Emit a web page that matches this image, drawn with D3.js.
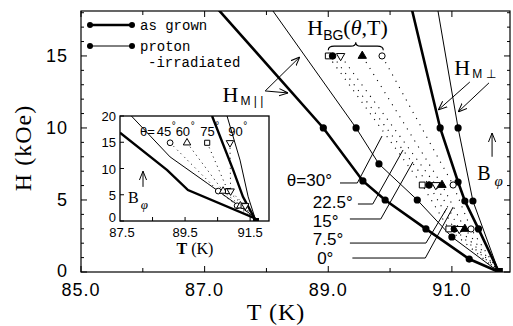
<!DOCTYPE html>
<html><head><meta charset="utf-8">
<script src="https://cdn.jsdelivr.net/npm/d3@7"></script>
<style>body{margin:0;background:#fff} svg{display:block}</style>
</head><body>
<script>
// ---- main panel data (T in K, H in kOe) ----
const xTicks = [85, 87, 89, 91];
const xMinor = [86, 88, 90];
const yTicks = [0, 5, 10, 15];
const yMinor = d3.range(0, 19, 1);
const T_C = 91.76;

// H_M parallel
const asGrownPar = [[87.06,19],[88.92,10.0],[89.56,6.32],[89.92,5.0],[90.58,2.99],[91.28,0.9],[91.76,0]];
const asGrownParDots = [[88.92,10.0],[89.56,6.32],[89.92,5.0],[90.58,2.99],[91.28,0.9]];
const protonPar = [[87.96,19],[89.45,10.0],[89.82,7.5],[90.44,5.0],[91.0,2.43],[91.76,0]];
const protonParDots = [[89.45,10.0],[89.82,7.5],[90.44,5.0],[91.0,2.43]];
// H_M perpendicular
const asGrownPerp = [[90.31,19],[90.81,10.0],[91.10,6.25],[91.21,4.93],[91.43,2.99],[91.76,0]];
const asGrownPerpDots = [[90.81,10.0],[91.10,6.25],[91.21,4.93],[91.43,2.99]];
const protonPerp = [[90.74,19],[91.10,10.0],[91.34,4.93],[91.76,0]];
const protonPerpDots = [[91.10,10.0],[91.34,4.93]];
// H_BG(theta,T)
const bgSquare = [[89.0,15.0],[90.52,6.04],[90.95,2.99],[91.76,0]];
const bgHalf   = [[89.07,15.0],[90.63,6.04],[91.04,2.99],[91.76,0]];
const bgDown   = [[89.2,15.0],[90.74,6.04],[91.12,2.99],[91.76,0]];
const bgUp     = [[89.55,15.0],[90.84,6.04],[91.21,2.99],[91.76,0]];
const bgCircle = [[89.87,15.0],[91.02,6.04],[91.31,2.99],[91.76,0]];
// theta labels and their leader lines
const thetaLabels = ["θ=30°", "22.5°", "15°", "7.5°", "0°"];
const thetaLabelPos = [[88.33,6.0],[88.75,4.44],[88.75,3.12],[88.75,1.87],[88.82,0.55]];
const thetaLeaders = [
  [[89.19,6.18],[89.47,6.18],[89.87,9.44]],
  [[89.48,4.72],[89.72,4.72],[90.21,8.47]],
  [[89.35,3.68],[89.85,3.68],[90.37,7.64]],
  [[89.35,2.01],[90.58,2.01],[90.92,4.44]],
  [[89.39,0.97],[90.57,0.97],[91.02,4.51]]
];

// ---- inset data ----
const insetXTicks = [87.5, 89.5, 91.5];
const insetYTicks = [0, 5, 10, 15, 20];
const insetTc = 91.68;
const insetGrownPar = [[87.5,16.8],[88.95,9.7],[89.59,5.9],[91.62,0.6],[91.68,0]];
const insetProtonPar = [[87.85,20],[89.04,12.2],[90.18,7.2],[91.56,1.1],[91.68,0]];
const insetGrownPerp = [[90.33,20],[90.98,9.7],[91.28,4.6],[91.68,0]];
const insetProtonPerp = [[90.79,20],[91.19,11.6],[91.44,4.6],[91.68,0]];
const insetBgCircle = [[89.04,14.9],[90.52,5.7],[91.1,2.9],[91.68,0]];
const insetBgUp     = [[89.56,14.9],[90.67,5.7],[91.2,2.9],[91.68,0]];
const insetBgSquare = [[90.18,14.9],[90.82,5.7],[91.3,2.9],[91.68,0]];
const insetBgDown   = [[90.88,14.9],[90.9,5.7],[91.35,2.9],[91.68,0]];
const insetAngles = ["45", "60", "75", "90"];
const insetAngleT = [88.63, 89.21, 89.97, 90.83];

const W = 513, H = 326;
const svg = d3.select("body").append("svg").attr("width", W).attr("height", H);

const x = d3.scaleLinear().domain([85, 91.94]).range([81, 510]);
const y = d3.scaleLinear().domain([0, 18.12]).range([272, 11]);

const defs = svg.append("defs");
defs.append("clipPath").attr("id", "clipMain").append("rect")
    .attr("x", 81).attr("y", 11).attr("width", 429).attr("height", 261);
defs.append("marker").attr("id", "arr").attr("viewBox", "0 0 10 10")
    .attr("refX", 10).attr("refY", 5).attr("markerWidth", 9).attr("markerHeight", 9)
    .attr("orient", "auto").attr("markerUnits", "userSpaceOnUse")
  .append("path").attr("d", "M0,1 L10,5 L0,9").attr("fill", "none").attr("stroke", "#000").attr("stroke-width", 1.1);

const line = d3.line().x(d => x(d[0])).y(d => y(d[1]));

// frame
svg.append("rect").attr("x", 81).attr("y", 11).attr("width", 429).attr("height", 261)
    .attr("fill", "none").attr("stroke", "#000").attr("stroke-width", 1.2);

// ticks (inward)
const tk = svg.append("g").attr("stroke", "#000").attr("stroke-width", 1);
xTicks.concat(xMinor).forEach(t => {
  const len = xTicks.includes(t) ? 6 : 4;
  tk.append("line").attr("x1", x(t)).attr("x2", x(t)).attr("y1", 272).attr("y2", 272 - len);
  tk.append("line").attr("x1", x(t)).attr("x2", x(t)).attr("y1", 11).attr("y2", 11 + len);
});
yMinor.forEach(v => {
  const len = yTicks.includes(v) ? 6 : 3;
  tk.append("line").attr("x1", 81).attr("x2", 81 + len).attr("y1", y(v)).attr("y2", y(v));
  tk.append("line").attr("x1", 510).attr("x2", 510 - len).attr("y1", y(v)).attr("y2", y(v));
});

const sans = "'Liberation Sans', Arial, sans-serif";
const serif = "'Liberation Serif', 'Times New Roman', serif";
const mono = "'Liberation Mono', 'Courier New', monospace";

svg.append("g").selectAll("text").data(xTicks).join("text")
    .attr("x", d => x(d)).attr("y", 296).attr("text-anchor", "middle")
    .attr("font-family", sans).attr("font-size", 18).attr("letter-spacing", 1)
    .text(d => d3.format(".1f")(d));
svg.append("g").selectAll("text").data(yTicks).join("text")
    .attr("x", 68).attr("y", d => y(d) + (d === 0 ? 5 : 6.5)).attr("text-anchor", "end")
    .attr("font-family", sans).attr("font-size", 18).attr("letter-spacing", 1)
    .text(d => d);

svg.append("text").attr("transform", "translate(31,148) rotate(-90)")
    .attr("text-anchor", "middle").attr("font-family", serif).attr("font-size", 24)
    .attr("letter-spacing", 1).text("H (kOe)");
svg.append("text").attr("x", 276).attr("y", 320).attr("text-anchor", "middle")
    .attr("font-family", serif).attr("font-size", 24).attr("letter-spacing", 1).text("T (K)");

// ---- plot content ----
const plot = svg.append("g").attr("clip-path", "url(#clipMain)");

const dotted = [bgSquare, bgHalf, bgDown, bgUp, bgCircle];
plot.append("g").selectAll("path").data(dotted).join("path")
    .attr("d", line)
    .attr("fill", "none").attr("stroke", "#000").attr("stroke-width", 1.1)
    .attr("stroke-dasharray", "1.1,6");

plot.append("path").attr("d", line(asGrownPar)).attr("fill", "none").attr("stroke", "#000").attr("stroke-width", 2.6);
plot.append("path").attr("d", line(protonPar)).attr("fill", "none").attr("stroke", "#000").attr("stroke-width", 1);
plot.append("path").attr("d", line(asGrownPerp)).attr("fill", "none").attr("stroke", "#000").attr("stroke-width", 2.6);
plot.append("path").attr("d", line(protonPerp)).attr("fill", "none").attr("stroke", "#000").attr("stroke-width", 1);

plot.append("g").selectAll("path").data(thetaLeaders).join("path")
    .attr("d", line).attr("fill", "none").attr("stroke", "#000").attr("stroke-width", 1);

const allDots = asGrownParDots.concat(protonParDots, asGrownPerpDots, protonPerpDots);
plot.append("g").selectAll("circle").data(allDots).join("circle")
    .attr("cx", d => x(d[0])).attr("cy", d => y(d[1])).attr("r", 3.6).attr("fill", "#000");

// BG symbols
function sym(g, sx, sy, data, type, filled, rot, size) {
  g.append("g").selectAll("path").data(data.slice(0, 3)).join("path")
    .attr("transform", d => `translate(${sx(d[0])},${sy(d[1])}) rotate(${rot})`)
    .attr("d", d3.symbol().type(type).size(size))
    .attr("fill", filled ? "#000" : "#fff").attr("stroke", "#000").attr("stroke-width", 1);
}
sym(plot, x, y, bgSquare, d3.symbolSquare, false, 0, 34);
sym(plot, x, y, bgHalf, d3.symbolCircle, true, 0, 34);
sym(plot, x, y, bgDown, d3.symbolTriangle, false, 180, 30);
sym(plot, x, y, bgUp, d3.symbolTriangle, true, 0, 30);
sym(plot, x, y, bgCircle, d3.symbolCircle, false, 0, 30);

// corner square at T_c
plot.append("rect").attr("x", x(T_C) - 4).attr("y", y(0) - 4).attr("width", 8).attr("height", 8).attr("fill", "#000");

// theta labels
svg.append("g").selectAll("text").data(thetaLabels).join("text")
    .attr("x", (d, i) => x(thetaLabelPos[i][0])).attr("y", (d, i) => y(thetaLabelPos[i][1]))
    .attr("font-family", sans).attr("font-size", 17).text(d => d);

// H_M parallel label + arrows
const hm = svg.append("text").attr("x", x(87.29)).attr("y", y(11.8)).attr("font-family", serif).attr("font-size", 22);
hm.append("tspan").text("H");
hm.append("tspan").attr("dy", 3).attr("dx", 2).attr("font-size", 12).attr("font-family", sans).text("M | |");
svg.append("line").attr("x1", x(87.98)).attr("y1", y(12.57)).attr("x2", x(88.54)).attr("y2", y(14.93))
    .attr("stroke", "#000").attr("stroke-width", 1).attr("marker-end", "url(#arr)");
svg.append("line").attr("x1", x(87.98)).attr("y1", y(12.57)).attr("x2", x(88.35)).attr("y2", y(12.43))
    .attr("stroke", "#000").attr("stroke-width", 1).attr("marker-end", "url(#arr)");

// H_M perp label + arrows
const hp = svg.append("text").attr("x", x(91.04)).attr("y", y(13.7)).attr("font-family", serif).attr("font-size", 22);
hp.append("tspan").text("H");
hp.append("tspan").attr("dy", 3).attr("dx", 2).attr("font-size", 12).attr("font-family", sans).text("M ⊥");
svg.append("line").attr("x1", x(91.29)).attr("y1", y(13.19)).attr("x2", x(90.78)).attr("y2", y(11.25))
    .attr("stroke", "#000").attr("stroke-width", 1).attr("marker-end", "url(#arr)");
svg.append("line").attr("x1", x(91.60)).attr("y1", y(13.13)).attr("x2", x(91.10)).attr("y2", y(11.11))
    .attr("stroke", "#000").attr("stroke-width", 1).attr("marker-end", "url(#arr)");

// H_BG(theta,T) label + brace
const hb = svg.append("text").attr("x", x(88.66)).attr("y", y(16.45)).attr("font-family", serif).attr("font-size", 22);
hb.append("tspan").text("H");
hb.append("tspan").attr("dy", 5).attr("font-size", 14).attr("font-family", sans).text("BG");
hb.append("tspan").attr("dy", -5).text("(");
hb.append("tspan").attr("font-style", "italic").text("θ");
hb.append("tspan").text(",T)");
{
  const bx0 = x(89.0), bx1 = x(89.89), by = y(15.75), bm = (bx0 + bx1) / 2;
  const p = d3.path();
  p.moveTo(bx0, by - 3);
  p.quadraticCurveTo(bx0, by + 1, bx0 + 6, by + 1);
  p.lineTo(bm - 5, by + 1);
  p.quadraticCurveTo(bm, by + 1, bm, by + 5);
  p.quadraticCurveTo(bm, by + 1, bm + 5, by + 1);
  p.lineTo(bx1 - 6, by + 1);
  p.quadraticCurveTo(bx1, by + 1, bx1, by - 3);
  svg.append("path").attr("d", p.toString()).attr("fill", "none").attr("stroke", "#000").attr("stroke-width", 1.1)
    .attr("transform", `rotate(180,${bm},${by + 1})`);
}

// B_phi arrow
svg.append("line").attr("x1", x(91.65)).attr("y1", y(8.0)).attr("x2", x(91.65)).attr("y2", y(9.65))
    .attr("stroke", "#000").attr("stroke-width", 1).attr("marker-end", "url(#arr)");
const bp = svg.append("text").attr("x", x(91.41)).attr("y", y(6.4)).attr("font-family", serif).attr("font-size", 20);
bp.append("tspan").text("B");
bp.append("tspan").attr("dx", 4).attr("dy", 6).attr("font-size", 15).attr("font-style", "italic").text("φ");

// legend
const leg = svg.append("g");
[[25, 2.6, "as grown"], [46, 1, "proton"]].forEach(([ly, sw, lab]) => {
  leg.append("line").attr("x1", 90).attr("x2", 132).attr("y1", ly).attr("y2", ly).attr("stroke", "#000").attr("stroke-width", sw);
  leg.append("circle").attr("cx", 90).attr("cy", ly).attr("r", 3).attr("fill", "#000");
  leg.append("circle").attr("cx", 132).attr("cy", ly).attr("r", 3).attr("fill", "#000");
  leg.append("text").attr("x", 140).attr("y", ly + 5).attr("font-family", mono).attr("font-size", 14).text(lab);
});
leg.append("text").attr("x", 148).attr("y", 67).attr("font-family", mono).attr("font-size", 14).text("-irradiated");

// ---- inset ----
const ix = d3.scaleLinear().domain([87.5, 92.08]).range([120, 269]);
const iy = d3.scaleLinear().domain([0, 20]).range([221, 116]);
const iline = d3.line().x(d => ix(d[0])).y(d => iy(d[1]));
defs.append("clipPath").attr("id", "clipInset").append("rect")
    .attr("x", 120).attr("y", 116).attr("width", 149).attr("height", 105);

const inset = svg.append("g");
inset.append("rect").attr("x", 120).attr("y", 116).attr("width", 149).attr("height", 105)
    .attr("fill", "#fff").attr("stroke", "#000").attr("stroke-width", 1.3);
const ip = inset.append("g").attr("clip-path", "url(#clipInset)");
[insetBgCircle, insetBgUp, insetBgSquare, insetBgDown].forEach(s => {
  ip.append("path").attr("d", iline(s)).attr("fill", "none").attr("stroke", "#000")
    .attr("stroke-width", 1).attr("stroke-dasharray", "1,4");
});
ip.append("path").attr("d", iline(insetGrownPar)).attr("fill", "none").attr("stroke", "#000").attr("stroke-width", 2.4);
ip.append("path").attr("d", iline(insetProtonPar)).attr("fill", "none").attr("stroke", "#000").attr("stroke-width", 1);
ip.append("path").attr("d", iline(insetGrownPerp)).attr("fill", "none").attr("stroke", "#000").attr("stroke-width", 2.4);
ip.append("path").attr("d", iline(insetProtonPerp)).attr("fill", "none").attr("stroke", "#000").attr("stroke-width", 1);
sym(ip, ix, iy, insetBgCircle, d3.symbolCircle, false, 0, 26);
sym(ip, ix, iy, insetBgUp, d3.symbolTriangle, false, 0, 24);
sym(ip, ix, iy, insetBgSquare, d3.symbolSquare, false, 0, 26);
sym(ip, ix, iy, insetBgDown, d3.symbolTriangle, false, 180, 24);
ip.append("rect").attr("x", ix(insetTc) - 3).attr("y", iy(0) - 3).attr("width", 6).attr("height", 6).attr("fill", "#000");

// inset ticks/labels
insetYTicks.forEach(v => {
  inset.append("line").attr("x1", 120).attr("x2", 124).attr("y1", iy(v)).attr("y2", iy(v)).attr("stroke", "#000");
});
[88.5, 89.5, 90.5, 91.5].forEach(v => {
  inset.append("line").attr("x1", ix(v)).attr("x2", ix(v)).attr("y1", 221).attr("y2", 217).attr("stroke", "#000");
});
inset.append("g").selectAll("text").data(insetYTicks).join("text")
    .attr("x", 116).attr("y", d => iy(d) + (d === 0 ? 1 : 5)).attr("text-anchor", "end")
    .attr("font-family", sans).attr("font-size", 13).text(d => d);
inset.append("g").selectAll("text").data(insetXTicks).join("text")
    .attr("x", d => ix(d) + (d === 87.5 ? 2 : 0)).attr("y", 237).attr("text-anchor", "middle")
    .attr("font-family", sans).attr("font-size", 13).text(d => d3.format(".1f")(d));
const itl = inset.append("text").attr("x", 195).attr("y", 254).attr("text-anchor", "middle")
    .attr("font-family", serif).attr("font-size", 16);
itl.append("tspan").attr("font-weight", "bold").text("T");
itl.append("tspan").text(" (K)");

// inset angle labels
const ang = inset.append("g").attr("font-family", sans).attr("font-size", 13);
ang.append("text").attr("x", 140).attr("y", 136).text("θ=");
insetAngles.forEach((a, i) => {
  const tx = ix(insetAngleT[i]);
  ang.append("text").attr("x", tx).attr("y", 136).text(a);
  ang.append("text").attr("x", tx + 15).attr("y", 129).attr("font-size", 10).text("°");
});

// inset B_phi
inset.append("line").attr("x1", 143).attr("y1", iy(6.5)).attr("x2", 143).attr("y2", iy(9.5))
    .attr("stroke", "#000").attr("stroke-width", 1).attr("marker-end", "url(#arr)");
const ib = inset.append("text").attr("x", 128).attr("y", iy(3.5)).attr("font-family", serif).attr("font-size", 16);
ib.append("tspan").text("B");
ib.append("tspan").attr("dx", 2).attr("dy", 6).attr("font-size", 13).attr("font-style", "italic").text("φ");
</script>
</body></html>
